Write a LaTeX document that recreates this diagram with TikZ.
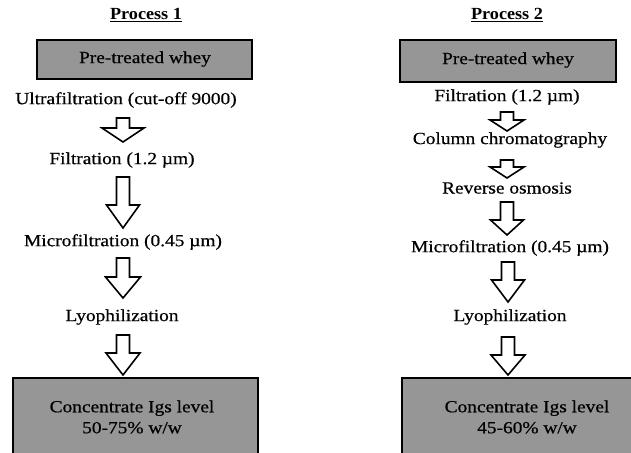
\documentclass[tikz,border=0pt]{standalone}
\usepackage{fontspec}
\usepackage{graphicx}
\setmainfont{Liberation Serif}
\newfontfamily\heavyserif{Liberation Serif}[FakeBold=0.6, FakeStretch=1.14]
\definecolor{boxgray}{RGB}{150,150,150}
\newcommand{\wb}[1]{\scalebox{1.07}[1]{#1}}
\tikzset{
  graybox/.style={draw=black, line width=2pt, fill=boxgray},
  lbl/.style={font=\heavyserif\fontsize{17}{21}\selectfont, inner sep=0pt, anchor=center},
  ttl/.style={font=\fontsize{17}{17}\selectfont\bfseries, inner sep=0pt, anchor=center},
  blk/.style={draw=black, line width=1.6pt, fill=white, line join=miter}
}
% \blockarr{cx}{top}{base}{tip}{shaft half}{head half}
\newcommand{\blockarr}[6]{%
  \draw[blk] (#1-#5,#2) -- (#1+#5,#2) -- (#1+#5,#3) -- (#1+#6,#3) -- (#1,#4)
    -- (#1-#6,#3) -- (#1-#5,#3) -- cycle;}
\begin{document}
\begin{tikzpicture}[x=1pt,y=-1pt]
\useasboundingbox (0,0) rectangle (631,452);
\clip (0,0) rectangle (631,452);
% ---------- Process 1
\node[ttl] (t1) at (146,15) {\wb{\underline{Process 1}}};
\draw[graybox] (37,40) rectangle (252,79);
\node[lbl] (p1a) at (145,59) {Pre-treated whey};
\node[lbl] (p1b) at (126,100) {Ultrafiltration (cut-off 9000)};
\node[lbl] (p1c) at (122,160) {Filtration (1.2 µm)};
\node[lbl] (p1d) at (123,242) {Microfiltration (0.45 µm)};
\node[lbl] (p1e) at (122,317) {Lyophilization};
\draw[graybox] (13,378) rectangle (258,460);
\node[lbl, align=center] (p1f) at (132,417) {Concentrate Igs level\\50-75\% w/w};
\blockarr{123}{118}{128}{142}{6.5}{21}
\blockarr{123}{177}{205}{228}{6.5}{16.5}
\blockarr{123}{258}{277}{298}{6.5}{17.5}
\blockarr{123}{335}{353}{375}{6.5}{17}
% ---------- Process 2
\node[ttl] (t2) at (507,15) {\wb{\underline{Process 2}}};
\draw[graybox] (400,40) rectangle (616,82);
\node[lbl] (p2a) at (508,60) {Pre-treated whey};
\node[lbl] (p2b) at (507,97) {Filtration (1.2 µm)};
\node[lbl] (p2c) at (510,140) {Column chromatography};
\node[lbl] (p2d) at (507,188) {Reverse osmosis};
\node[lbl] (p2e) at (510,248) {Microfiltration (0.45 µm)};
\node[lbl] (p2f) at (510,317) {Lyophilization};
\draw[graybox] (402,378) rectangle (632,460);
\node[lbl, align=center] (p2g) at (527,417) {Concentrate Igs level\\45-60\% w/w};
\blockarr{507}{112}{120}{131}{6.5}{17}
\blockarr{507}{160}{167}{178}{6.5}{17}
\blockarr{507}{202}{220}{235}{6.5}{16.5}
\blockarr{508}{262}{280}{302}{6.5}{16.5}
\blockarr{508}{337}{355}{375}{6.5}{17}
\end{tikzpicture}
\end{document}
